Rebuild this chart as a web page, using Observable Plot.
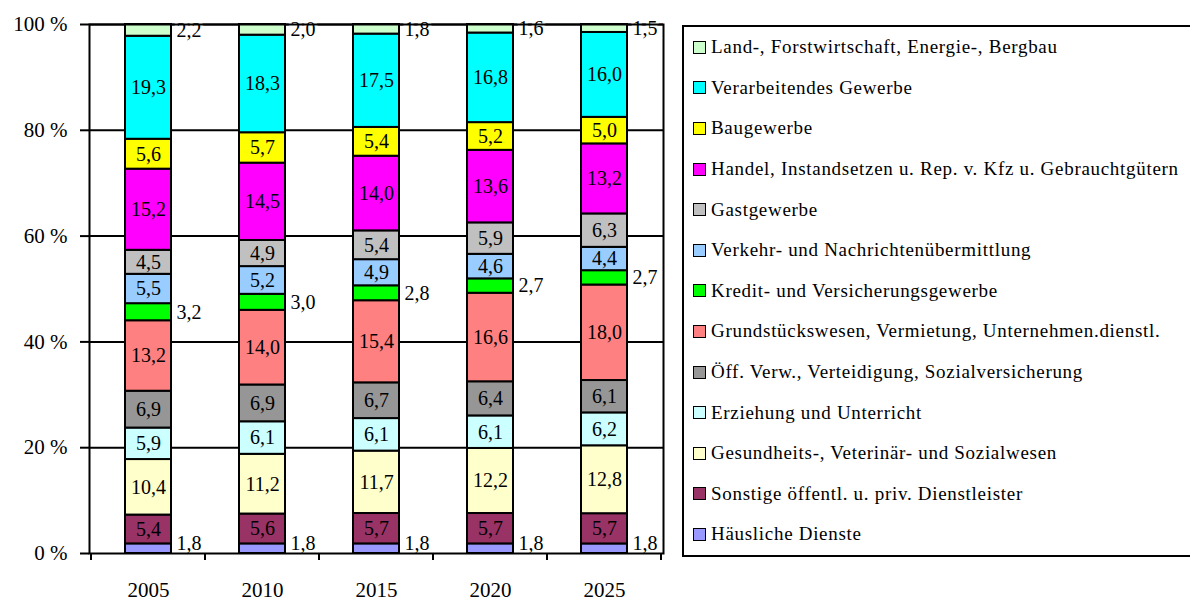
<!DOCTYPE html>
<html><head><meta charset="utf-8">
<script src="https://cdn.jsdelivr.net/npm/d3@7"></script>
<script src="https://cdn.jsdelivr.net/npm/@observablehq/plot@0.6"></script>
<style>
html,body{margin:0;padding:0;background:#fff;overflow:hidden;width:1190px;height:601px}
#wrap{position:relative;width:1190px;height:601px}
#legend{position:absolute;left:682px;top:25px;width:600px;height:532px;border:2px solid #000;box-sizing:border-box;font-family:"Liberation Serif",serif;font-size:19px;letter-spacing:0.7px;color:#000;background:#fff}
.item{height:40.6px;display:flex;align-items:center;padding-left:9px;white-space:nowrap}
.sw{width:11px;height:11px;border:1.5px solid #000;margin-right:5px;flex:none}
</style></head>
<body><div id="wrap"></div>
<script>
const years = ["2005", "2010", "2015", "2020", "2025"];
// categories from bottom to top of the stack
const categories = [
  "Häusliche Dienste",
  "Sonstige öffentl. u. priv. Dienstleister",
  "Gesundheits-, Veterinär- und Sozialwesen",
  "Erziehung und Unterricht",
  "Öff. Verw., Verteidigung, Sozialversicherung",
  "Grundstückswesen, Vermietung, Unternehmen.dienstl.",
  "Kredit- und Versicherungsgewerbe",
  "Verkehr- und Nachrichtenübermittlung",
  "Gastgewerbe",
  "Handel, Instandsetzen u. Rep. v. Kfz u. Gebrauchtgütern",
  "Baugewerbe",
  "Verarbeitendes Gewerbe",
  "Land-, Forstwirtschaft, Energie-, Bergbau"
];
const colors = ["#9999FF", "#993366", "#FFFFCC", "#CCFFFF", "#969696", "#FF8080", "#00FF00", "#99CCFF", "#C0C0C0", "#FF00FF", "#FFFF00", "#00FFFF", "#CCFFCC"];

const haeusliche   = [1.8, 1.8, 1.8, 1.8, 1.8];
const sonstige     = [5.4, 5.6, 5.7, 5.7, 5.7];
const gesundheit   = [10.4, 11.2, 11.7, 12.2, 12.8];
const erziehung    = [5.9, 6.1, 6.1, 6.1, 6.2];
const oeffVerw     = [6.9, 6.9, 6.7, 6.4, 6.1];
const grundstueck  = [13.2, 14.0, 15.4, 16.6, 18.0];
const kredit       = [3.2, 3.0, 2.8, 2.7, 2.7];
const verkehr      = [5.5, 5.2, 4.9, 4.6, 4.4];
const gastgewerbe  = [4.5, 4.9, 5.4, 5.9, 6.3];
const handel       = [15.2, 14.5, 14.0, 13.6, 13.2];
const baugewerbe   = [5.6, 5.7, 5.4, 5.2, 5.0];
const verarbeitend = [19.3, 18.3, 17.5, 16.8, 16.0];
const land         = [2.2, 2.0, 1.8, 1.6, 1.5];

const series = [haeusliche, sonstige, gesundheit, erziehung, oeffVerw, grundstueck, kredit, verkehr, gastgewerbe, handel, baugewerbe, verarbeitend, land];
const yTicks = [0, 0.2, 0.4, 0.6, 0.8, 1];

const outsideMid = new Set([categories[6], categories[12]]);
const outsideLow = new Set([categories[0]]);

const data = [];
categories.forEach((cat, ci) => years.forEach((year, yi) => data.push({year, cat, value: series[ci][yi]})));
const fmt = v => v.toFixed(1).replace(".", ",");

const stackOpts = {x: "year", y: "value", z: "cat", order: categories, offset: "normalize"};

const bottomTicks = (index, scales, values, dims) => {
  const x = scales.x;
  const step = typeof x.step === "function" ? x.step() : (dims.width - dims.marginLeft - dims.marginRight) / years.length;
  const bw = typeof x.bandwidth === "function" ? x.bandwidth() : step * 0.4;
  const half = (step - bw) / 2;
  const pos = years.map(y => x(y) - half).concat([x(years[years.length - 1]) + bw + half]);
  const y0 = dims.height - dims.marginBottom;
  const g = d3.create("svg:g");
  g.selectAll("line").data(pos).join("line")
    .attr("x1", d => d).attr("x2", d => d).attr("y1", y0).attr("y2", y0 + 7)
    .attr("stroke", "black").attr("stroke-width", 2);
  return g.node();
};

const chart = Plot.plot({
  width: 1190,
  height: 601,
  marginLeft: 89,
  marginRight: 527,
  marginTop: 24,
  marginBottom: 48,
  style: {fontFamily: "'Liberation Serif', serif", background: "white", color: "black", overflow: "visible"},
  x: {domain: years, paddingInner: 0.6, paddingOuter: 0.3, label: null},
  y: {domain: [0, 1], label: null},
  color: {domain: categories, range: colors},
  marks: [
    Plot.gridY(yTicks.slice(1), {stroke: "black", strokeOpacity: 1, strokeWidth: 2}),
    Plot.barY(data, Plot.stackY({...stackOpts, fill: "cat", stroke: "black", strokeWidth: 2})),
    Plot.text(data, Plot.stackY({...stackOpts, text: d => (outsideMid.has(d.cat) || outsideLow.has(d.cat)) ? "" : fmt(d.value), fontSize: 20, fill: "black"})),
    Plot.text(data, Plot.stackY({...stackOpts, text: d => outsideMid.has(d.cat) ? fmt(d.value) : "", fontSize: 20, fill: "black", textAnchor: "start", dx: 28, stroke: "white", strokeWidth: 6, paintOrder: "stroke"})),
    Plot.text(data, Plot.stackY({...stackOpts, text: d => outsideLow.has(d.cat) ? fmt(d.value) : "", fontSize: 20, fill: "black", textAnchor: "start", dx: 28, dy: -5, stroke: "white", strokeWidth: 6, paintOrder: "stroke"})),
    Plot.frame({stroke: "black", strokeWidth: 2}),
    Plot.axisY({ticks: yTicks, tickFormat: d => `${Math.round(d * 100)} %`, tickSize: 9, tickPadding: 13, fontSize: 21, strokeWidth: 2}),
    Plot.axisX({tickSize: 0, tickPadding: 29, fontSize: 21}),
    bottomTicks
  ]
});

const wrap = document.getElementById("wrap");
wrap.appendChild(chart);

const legend = document.createElement("div");
legend.id = "legend";
categories.slice().reverse().forEach(cat => {
  const item = document.createElement("div");
  item.className = "item";
  const sw = document.createElement("span");
  sw.className = "sw";
  sw.style.background = colors[categories.indexOf(cat)];
  const label = document.createElement("span");
  label.textContent = cat;
  item.appendChild(sw);
  item.appendChild(label);
  legend.appendChild(item);
});
wrap.appendChild(legend);
</script>
</body></html>
